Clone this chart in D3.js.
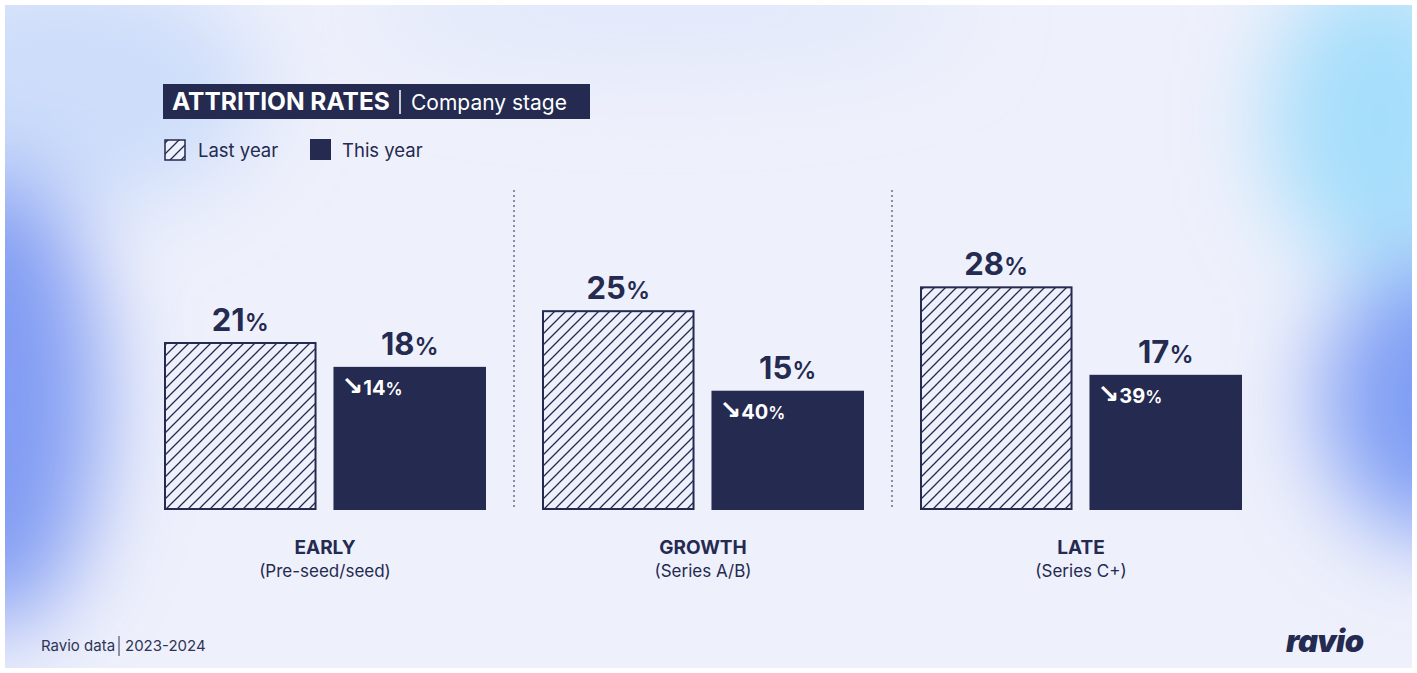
<!DOCTYPE html>
<html>
<head>
<meta charset="utf-8">
<script src="https://cdn.jsdelivr.net/npm/d3@7.9.0/dist/d3.min.js"></script>
<style>
  html, body { margin: 0; padding: 0; background: #fff; }
  svg { display: block; font-family: Inter, "Noto Sans", sans-serif; }
</style>
</head>
<body>
<svg id="chart" width="1417" height="673"></svg>
<script>
const stages = ["EARLY", "GROWTH", "LATE"];
const stageNotes = ["(Pre-seed/seed)", "(Series A/B)", "(Series C+)"];
const series = ["Last year", "This year"];
const lastYear = [21, 25, 28];
const thisYear = [18, 15, 17];
const changeLabels = ["14%", "40%", "39%"];

const dark = "#242a50";
const light = "#eef0fb";

const svg = d3.select("#chart");
const defs = svg.append("defs");

// soft background blobs
const blur = defs.append("filter").attr("id", "blur")
  .attr("x", "-50%").attr("y", "-50%").attr("width", "200%").attr("height", "200%");
blur.append("feGaussianBlur").attr("stdDeviation", 45);

const hatch = defs.append("pattern")
  .attr("id", "hatch")
  .attr("patternUnits", "userSpaceOnUse")
  .attr("width", 11).attr("height", 11);
hatch.append("rect").attr("width", 11).attr("height", 11).attr("fill", light);
hatch.append("path")
  .attr("d", "M-1,12 L12,-1 M-3,3 L3,-3 M8,14 L14,8")
  .attr("stroke", dark).attr("stroke-width", 1.3);

const clip = defs.append("clipPath").attr("id", "card");
clip.append("rect").attr("x", 5).attr("y", 5).attr("width", 1407).attr("height", 663);

const bg = svg.append("g").attr("clip-path", "url(#card)");
bg.append("rect").attr("x", 5).attr("y", 5).attr("width", 1407).attr("height", 663).attr("fill", light);
const blobs = bg.append("g").attr("filter", "url(#blur)");
blobs.append("ellipse").attr("cx", 60).attr("cy", 90).attr("rx", 200).attr("ry", 120).attr("fill", "#c4d8fa").attr("opacity", 0.8);
blobs.append("ellipse").attr("cx", -10).attr("cy", 400).attr("rx", 110).attr("ry", 230).attr("fill", "#809bf3");
blobs.append("ellipse").attr("cx", 1440).attr("cy", 400).attr("rx", 120).attr("ry", 140).attr("fill", "#7f9ef4");
blobs.append("ellipse").attr("cx", 1380).attr("cy", 120).attr("rx", 110).attr("ry", 150).attr("fill", "#a5defb");
blobs.append("ellipse").attr("cx", 660).attr("cy", 10).attr("rx", 300).attr("ry", 60).attr("fill", "#dde6fb").attr("opacity", 0.7);

// scales
const baseY = 510;
const x0 = d3.scaleBand().domain(stages).range([136, 1270]);
const x1 = d3.scaleBand().domain(series).range([28, 350]).paddingInner(0.1);
const y = d3.scaleLinear().domain([0, 21]).range([baseY, 343]);

// title
const title = svg.append("g");
title.append("rect").attr("x", 163).attr("y", 84).attr("width", 427).attr("height", 35).attr("fill", dark);
title.append("text").attr("x", 172).attr("y", 110).attr("fill", "#fff").attr("font-size", 24.5)
  .attr("font-weight", 700).text("ATTRITION RATES");
title.append("line").attr("x1", 400).attr("x2", 400).attr("y1", 90).attr("y2", 114).attr("stroke", "#fff").attr("stroke-width", 1.5);
title.append("text").attr("x", 411).attr("y", 110).attr("fill", "#fff").attr("font-size", 21).text("Company stage");

// legend
const legend = svg.append("g");
legend.append("rect").attr("x", 165).attr("y", 140).attr("width", 20).attr("height", 20)
  .attr("fill", "url(#hatch)").attr("stroke", dark).attr("stroke-width", 1.5);
legend.append("text").attr("x", 198).attr("y", 157).attr("font-size", 18.5).attr("fill", dark).text(series[0]);
legend.append("rect").attr("x", 310).attr("y", 139).attr("width", 21).attr("height", 21).attr("fill", dark);
legend.append("text").attr("x", 342).attr("y", 157).attr("font-size", 18.5).attr("fill", dark).text(series[1]);

// dividers
svg.selectAll(".divider").data(stages.slice(1)).join("line")
  .attr("class", "divider")
  .attr("x1", d => x0(d)).attr("x2", d => x0(d))
  .attr("y1", 190).attr("y2", baseY)
  .attr("stroke", dark).attr("stroke-width", 1).attr("stroke-dasharray", "2,3");

const groups = svg.selectAll(".group").data(stages).join("g")
  .attr("class", "group")
  .attr("transform", d => `translate(${x0(d)},0)`);

// last year bars
groups.append("rect")
  .attr("x", x1(series[0]) + 1)
  .attr("y", (d, i) => y(lastYear[i]))
  .attr("width", x1.bandwidth() - 2)
  .attr("height", (d, i) => baseY - y(lastYear[i]) - 1)
  .attr("fill", "url(#hatch)")
  .attr("stroke", dark).attr("stroke-width", 2);

// this year bars
groups.append("rect")
  .attr("x", x1(series[1]))
  .attr("y", (d, i) => y(thisYear[i]))
  .attr("width", x1.bandwidth())
  .attr("height", (d, i) => baseY - y(thisYear[i]))
  .attr("fill", dark);

function valueLabel(sel, xPos, vals) {
  const t = sel.append("text")
    .attr("x", xPos)
    .attr("y", (d, i) => y(vals[i]) - 12)
    .attr("text-anchor", "middle")
    .attr("fill", dark)
    .attr("font-weight", 700);
  t.append("tspan").attr("font-size", 31).text((d, i) => vals[i]);
  t.append("tspan").attr("font-size", 24).attr("font-weight", 600).text("%");
}
valueLabel(groups, x1(series[0]) + x1.bandwidth() / 2, lastYear);
valueLabel(groups, x1(series[1]) + x1.bandwidth() / 2, thisYear);

// change labels inside this year bars
const ch = groups.append("text")
  .attr("x", x1(series[1]) + 8)
  .attr("y", (d, i) => y(thisYear[i]) + 28)
  .attr("fill", "#fff")
  .attr("font-weight", 700);
ch.append("tspan").attr("font-size", 26).attr("font-family", "'DejaVu Sans', sans-serif").text("\u2198");
ch.append("tspan").attr("font-size", 20).attr("dx", 0).text((d, i) => changeLabels[i].replace("%", ""));
ch.append("tspan").attr("font-size", 17).attr("font-weight", 600).text("%");

// category labels
groups.append("text")
  .attr("x", x0.bandwidth() / 2)
  .attr("y", 554)
  .attr("text-anchor", "middle")
  .attr("font-size", 19).attr("font-weight", 700).attr("fill", dark)
  .text(d => d);
groups.append("text")
  .attr("x", x0.bandwidth() / 2)
  .attr("y", 577)
  .attr("text-anchor", "middle")
  .attr("font-size", 17).attr("fill", dark)
  .text((d, i) => stageNotes[i]);

// footer
svg.append("text").attr("x", 41).attr("y", 651).attr("font-size", 15).attr("fill", "#2f3555").text("Ravio data");
svg.append("line").attr("x1", 119).attr("x2", 119).attr("y1", 636).attr("y2", 656).attr("stroke", "#2f3555").attr("stroke-width", 1);
svg.append("text").attr("x", 125).attr("y", 651).attr("font-size", 15).attr("fill", "#2f3555").text("2023-2024");
svg.append("text").attr("x", 1286).attr("y", 652).attr("font-size", 31).attr("font-weight", 900)
  .attr("font-style", "italic").attr("fill", dark).attr("letter-spacing", -0.5).text("ravio");
</script>
</body>
</html>
